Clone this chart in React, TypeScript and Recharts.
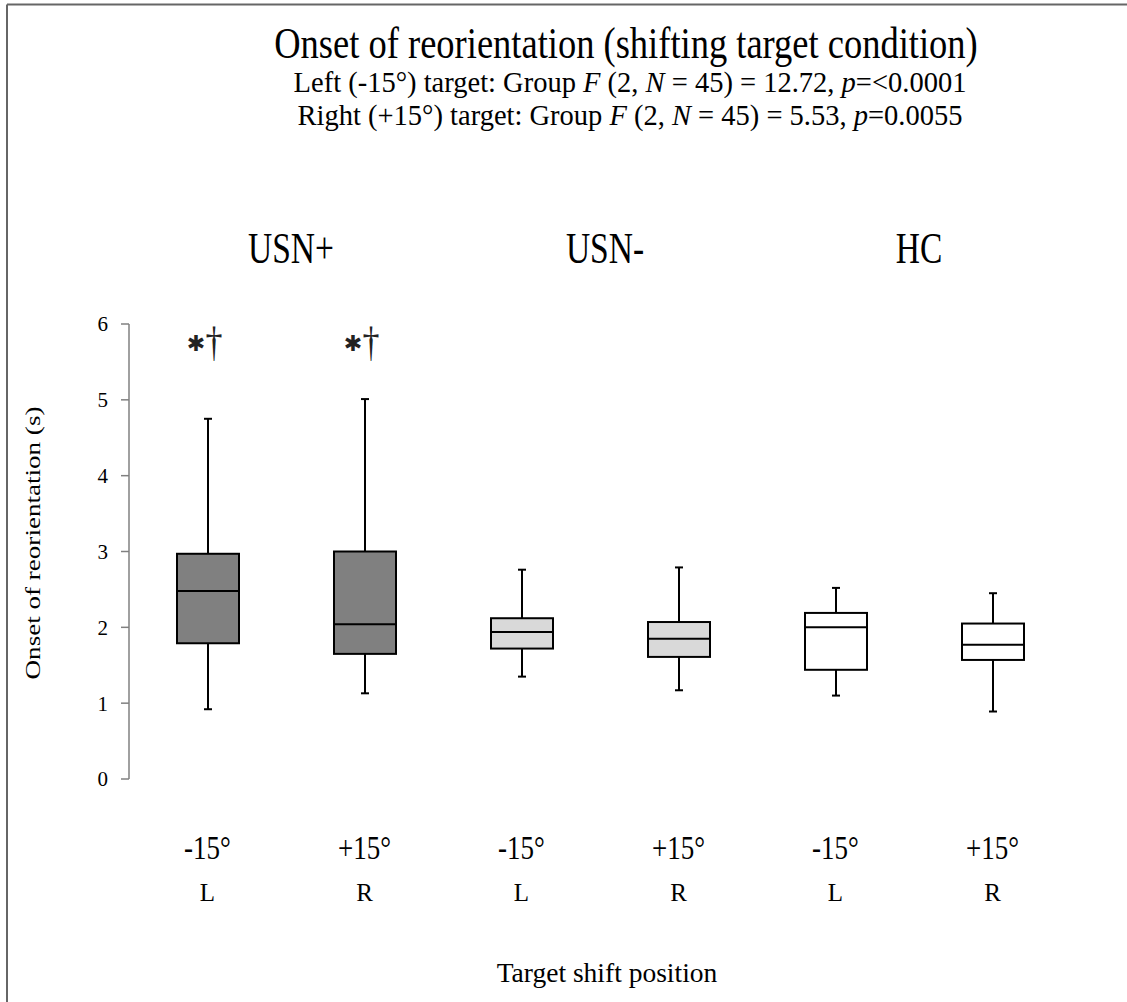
import React from "react";
import { ComposedChart, Bar, XAxis, YAxis } from "recharts";

// conditions, left to right
const conditions = ["USN+ L", "USN+ R", "USN- L", "USN- R", "HC L", "HC R"];
const shiftLabels = ["-15°", "+15°", "-15°", "+15°", "-15°", "+15°"];
const sideLabels = ["L", "R", "L", "R", "L", "R"];
const groups = ["USN+", "USN-", "HC"];

// box plot values (s)
const minValues = [0.92, 1.13, 1.35, 1.17, 1.1, 0.89];
const q1Values = [1.79, 1.65, 1.72, 1.61, 1.44, 1.57];
const medianValues = [2.48, 2.04, 1.94, 1.85, 2.0, 1.77];
const q3Values = [2.97, 3.0, 2.12, 2.07, 2.19, 2.05];
const maxValues = [4.75, 5.01, 2.76, 2.79, 2.52, 2.45];
const significance = [true, true, false, false, false, false];

const yTicks = [0, 1, 2, 3, 4, 5, 6];
const boxColors = ["#808080", "#808080", "#d9d9d9", "#d9d9d9", "#ffffff", "#ffffff"];

const data = conditions.map((c, i) => ({
  cond: c,
  range: [minValues[i], maxValues[i]],
  min: minValues[i],
  q1: q1Values[i],
  median: medianValues[i],
  q3: q3Values[i],
  max: maxValues[i],
  fill: boxColors[i],
  sig: significance[i],
}));

const W = 1127;
const H = 1002;
const PLOT_LEFT = 129;
const SERIF = '"Liberation Serif", "Times New Roman", serif';
const MARK_LEVEL = 5.58; // baseline of the *† markers, in data units

function BoxShape(props: any) {
  const { x, y, width, height, payload } = props;
  const top = Math.min(y, y + height);
  const h = Math.abs(height);
  const { min, q1, median, q3, max, fill, sig } = payload;
  const py = (v: number) => top + ((max - v) / (max - min)) * h;
  const cx = x + width / 2;
  const cap = 4;
  const s = { stroke: "#000", strokeWidth: 2 };
  return (
    <g>
      <line x1={cx} x2={cx} y1={py(max)} y2={py(q3)} {...s} />
      <line x1={cx} x2={cx} y1={py(q1)} y2={py(min)} {...s} />
      <line x1={cx - cap} x2={cx + cap} y1={py(max)} y2={py(max)} {...s} />
      <line x1={cx - cap} x2={cx + cap} y1={py(min)} y2={py(min)} {...s} />
      <rect x={x} y={py(q3)} width={width} height={py(q1) - py(q3)} fill={fill} {...s} />
      <line x1={x} x2={x + width} y1={py(median)} y2={py(median)} {...s} />
      {sig && (
        <g>
          <text x={cx - 12} y={py(MARK_LEVEL) - 12} textAnchor="middle" dominantBaseline="central"
            fontFamily='"DejaVu Sans", sans-serif' fontSize={22} fill="#222">✱</text>
          <text transform={`translate(${cx + 6},${py(MARK_LEVEL)}) scale(1,1.25)`} textAnchor="middle"
            fontFamily={SERIF} fontSize={34} fill="#222">†</text>
        </g>
      )}
    </g>
  );
}

function CondTick(props: any) {
  const { x, y, index } = props;
  const halfBand = (x - PLOT_LEFT) / (2 * index + 1);
  return (
    <g>
      <text transform={`translate(${x},${y + 80}) scale(1,1.26)`} textAnchor="middle"
        fontFamily={SERIF} fontSize={27} fill="#000">{shiftLabels[index]}</text>
      <text x={x} y={y + 122} textAnchor="middle" fontFamily={SERIF} fontSize={25} fill="#000">
        {sideLabels[index]}
      </text>
      {index % 2 === 0 && (
        <text transform={`translate(${x + halfBand + 5},${y - 516}) scale(1,1.3)`} textAnchor="middle"
          fontFamily={SERIF} fontSize={33.5} fill="#000">{groups[index / 2]}</text>
      )}
    </g>
  );
}

export default function App() {
  return (
    <div style={{ position: "absolute", left: 0, top: 0, width: W, height: H, background: "#fff" }}>
      <ComposedChart width={W} height={H} data={data} margin={{ top: 324, right: 56, bottom: 0, left: 0 }}>
        <XAxis xAxisId="bnd" type="number" domain={[0, 6]} ticks={yTicks} tick={false} height={0}
          tickSize={8} stroke="#808080" strokeWidth={1.5} allowDataOverflow />
        <XAxis xAxisId="cat" dataKey="cond" height={223} axisLine={false} tickLine={false}
          tickSize={0} tickMargin={0} tick={<CondTick />} interval={0} />
        <YAxis domain={[0, 6]} ticks={yTicks} width={PLOT_LEFT} tickSize={8} tickMargin={13}
          stroke="#808080" strokeWidth={1.5} interval={0}
          tick={{ fill: "#000", fontSize: 21, fontFamily: SERIF }} />
        <Bar xAxisId="cat" dataKey="range" barSize={62} shape={<BoxShape />} isAnimationActive={false} />
      </ComposedChart>
      <svg width={W} height={H} style={{ position: "absolute", left: 0, top: 0, pointerEvents: "none" }}>
        <line x1={7} x2={W} y1={4.5} y2={4.5} stroke="#666" strokeWidth={2} />
        <line x1={7} x2={7} y1={4.5} y2={H} stroke="#666" strokeWidth={2} />
        <text transform="translate(626,58) scale(1,1.2)" textAnchor="middle" fontFamily={SERIF} fontSize={36.5}>
          Onset of reorientation (shifting target condition)
        </text>
        <text transform="translate(630,92) scale(1,1.05)" textAnchor="middle" fontFamily={SERIF} fontSize={28.5}>
          Left (-15°) target: Group <tspan fontStyle="italic">F</tspan> (2, <tspan fontStyle="italic">N</tspan> = 45) = 12.72, <tspan fontStyle="italic">p</tspan>=&lt;0.0001
        </text>
        <text transform="translate(630,125) scale(1,1.05)" textAnchor="middle" fontFamily={SERIF} fontSize={28.5}>
          Right (+15°) target: Group <tspan fontStyle="italic">F</tspan> (2, <tspan fontStyle="italic">N</tspan> = 45) = 5.53, <tspan fontStyle="italic">p</tspan>=0.0055
        </text>
        <text transform="translate(40,543) rotate(-90) scale(1.26,1)" textAnchor="middle" fontFamily={SERIF} fontSize={21.5}>
          Onset of reorientation (s)
        </text>
        <text x={607} y={982} textAnchor="middle" fontFamily={SERIF} fontSize={27.5}>
          Target shift position
        </text>
      </svg>
    </div>
  );
}
